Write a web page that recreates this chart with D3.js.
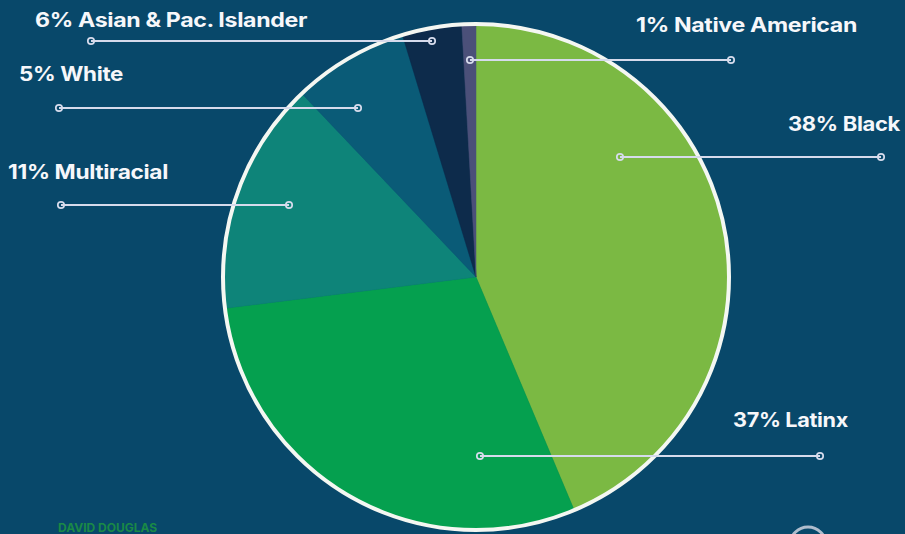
<!DOCTYPE html>
<html>
<head>
<meta charset="utf-8">
<script src="https://cdn.jsdelivr.net/npm/d3@7"></script>
<style>
  html, body { margin: 0; padding: 0; background: #08486a; }
  svg { display: block; }
  text { font-family: Inter, "Open Sans", sans-serif; }
</style>
</head>
<body>
<svg id="chart" width="905" height="534"></svg>
<script>
// ---- data (clockwise from 12 o'clock) ----
const categories = ["Black", "Latinx", "Multiracial", "White", "Asian & Pac. Islander", "Native American"];
// slice shares as drawn in the picture (angular share, %)
const sliceValues = [43.7, 29.4, 14.9, 7.4, 3.8, 0.9];
// percentages printed in the labels
const labelPercents = [38, 37, 11, 5, 6, 1];
const colors = ["#7bb943", "#05a04f", "#0e8479", "#0a5b77", "#0d2b4b", "#4b5079"];

// ---- layout (annotation placement) ----
const W = 905, H = 534;
const cx = 476, cy = 277, R = 253;
const labelLayout = [
  { lineY: 157, x1: 620, x2: 881, tx: 900, ty: 131, anchor: "end",   w: 112 },
  { lineY: 456, x1: 480, x2: 820, tx: 848, ty: 427, anchor: "end",   w: 115 },
  { lineY: 205, x1: 289, x2: 61,  tx: 8,   ty: 179, anchor: "start", w: 160 },
  { lineY: 108, x1: 358, x2: 59,  tx: 19,  ty: 81,  anchor: "start", w: 104 },
  { lineY: 41,  x1: 432, x2: 91,  tx: 35,  ty: 27,  anchor: "start", w: 272 },
  { lineY: 60,  x1: 470, x2: 731, tx: 857, ty: 32,  anchor: "end",   w: 221 }
];

const svg = d3.select("#chart");
svg.append("rect").attr("width", W).attr("height", H).attr("fill", "#08486a");

const rows = categories.map((c, i) => ({ name: c, value: sliceValues[i], pct: labelPercents[i], color: colors[i], lay: labelLayout[i] }));

const pie = d3.pie().value(d => d.value).sort(null).startAngle(0).endAngle(2 * Math.PI);
const arc = d3.arc().innerRadius(0).outerRadius(R);

const g = svg.append("g").attr("transform", `translate(${cx},${cy})`);
g.selectAll("path.slice").data(pie(rows)).join("path")
  .attr("class", "slice")
  .attr("d", arc)
  .attr("fill", d => d.data.color)
  .attr("stroke", d => d.data.color)
  .attr("stroke-width", 0.5);

// white outline
g.append("circle").attr("r", R).attr("fill", "none").attr("stroke", "#f4f7f2").attr("stroke-width", 4);

// leader lines and labels
const ann = svg.append("g");
rows.forEach(d => {
  const L = d.lay;
  ann.append("line")
    .attr("x1", L.x1).attr("x2", L.x2).attr("y1", L.lineY).attr("y2", L.lineY)
    .attr("stroke", "#d6dbec").attr("stroke-width", 2.2);
  [L.x1, L.x2].forEach(x => {
    ann.append("circle").attr("cx", x).attr("cy", L.lineY).attr("r", 3.2)
      .attr("fill", "none").attr("stroke", "#d6dbec").attr("stroke-width", 1.7);
  });
  ann.append("text")
    .attr("x", L.tx).attr("y", L.ty)
    .attr("text-anchor", L.anchor)
    .attr("fill", "#f6f7fa")
    .attr("font-size", 20)
    .attr("font-weight", 700)
    .attr("letter-spacing", -0.3)
    .attr("textLength", L.w)
    .attr("lengthAdjust", "spacingAndGlyphs")
    .text(`${d.pct}% ${d.name}`);
});

// faint footer branding
svg.append("text").attr("x", 58).attr("y", 532).attr("fill", "#1f9a3e")
  .attr("font-size", 12).attr("font-weight", 700).attr("opacity", 0.8).text("DAVID DOUGLAS");
svg.append("circle").attr("cx", 808).attr("cy", 545).attr("r", 18)
  .attr("fill", "none").attr("stroke", "#d9dbe6").attr("stroke-width", 3).attr("opacity", 0.8);
</script>
</body>
</html>
